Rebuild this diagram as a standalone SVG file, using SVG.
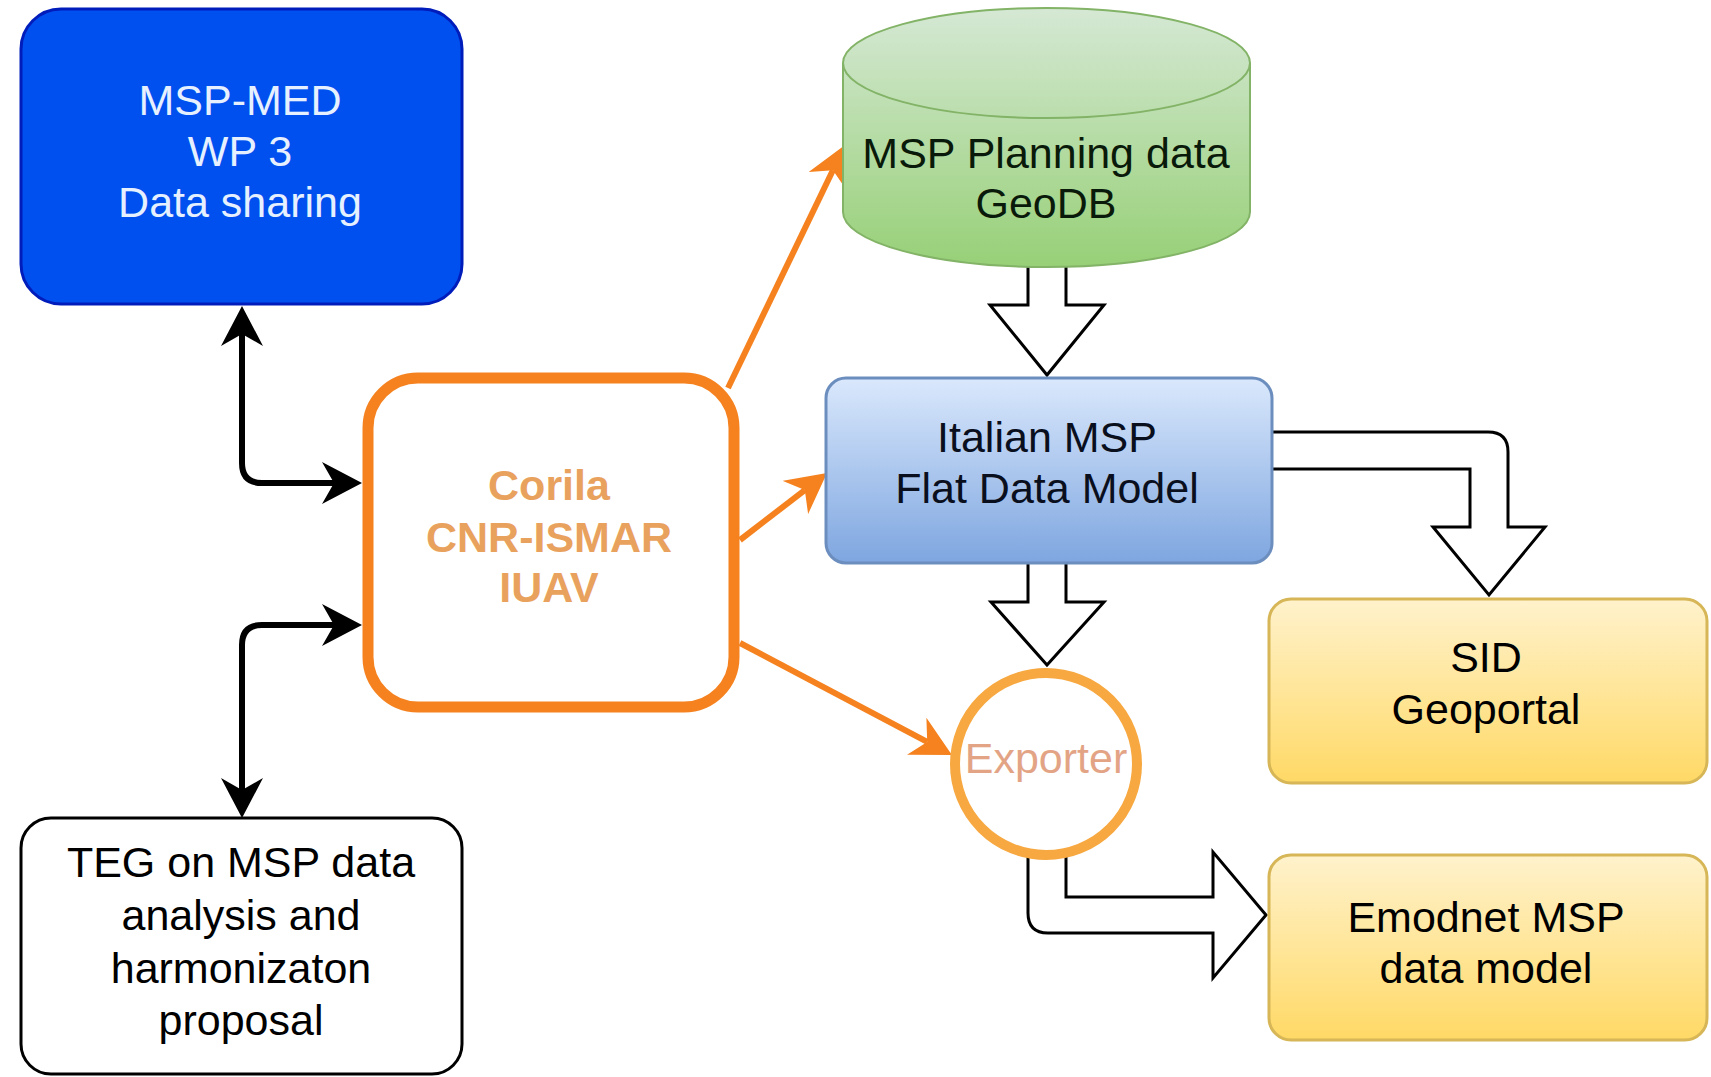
<svg xmlns="http://www.w3.org/2000/svg" width="1711" height="1077" viewBox="0 0 1711 1077">
<style>
text{font-family:"Liberation Sans",Arial,sans-serif;font-size:43px;text-anchor:middle}
.flex{fill:#fff;stroke:#000;stroke-width:3;stroke-linejoin:miter}
.blk{fill:none;stroke:#000;stroke-width:6}
.org{fill:none;stroke:#F5821F;stroke-width:6}
</style>
<defs>
<linearGradient id="gGreen" x1="0" y1="0" x2="0" y2="1"><stop offset="0" stop-color="#d5e8d4"/><stop offset="1" stop-color="#97d077"/></linearGradient>
<linearGradient id="gBlue" x1="0" y1="0" x2="0" y2="1"><stop offset="0" stop-color="#dae8fc"/><stop offset="1" stop-color="#7ea6e0"/></linearGradient>
<linearGradient id="gYellow" x1="0" y1="0" x2="0" y2="1"><stop offset="0" stop-color="#fff2cc"/><stop offset="1" stop-color="#ffd966"/></linearGradient>
<marker id="mBlk" viewBox="0 0 40 42" refX="12" refY="21" markerWidth="40" markerHeight="42" markerUnits="userSpaceOnUse" orient="auto-start-reverse"><path d="M0,0 L40,21 L0,42 L12,21 Z" fill="#000"/></marker>
<marker id="mOrg" viewBox="0 0 40 42" refX="12" refY="21" markerWidth="40" markerHeight="42" markerUnits="userSpaceOnUse" orient="auto"><path d="M0,0 L40,21 L0,42 L12,21 Z" fill="#F5821F"/></marker>
</defs>
<g id="connectors">
<path class="blk" d="M242,334 L242,463 Q242,483 262,483 L334,483" marker-start="url(#mBlk)" marker-end="url(#mBlk)"/>
<path class="blk" d="M242,790 L242,645 Q242,625 262,625 L334,625" marker-start="url(#mBlk)" marker-end="url(#mBlk)"/>
<path class="org" d="M728,388 L832.9,170.2" marker-end="url(#mOrg)"/>
<path class="org" d="M740,540 L804.8,490.1" marker-end="url(#mOrg)"/>
<path class="org" d="M740,643 L927.2,741.9" marker-end="url(#mOrg)"/>
<path class="flex" d="M1028,262 L1028,305 L990,305 L1047,375 L1104,305 L1066,305 L1066,262"/>
<path class="flex" d="M1028,560 L1028,602 L991,602 L1047,665 L1104,602 L1066,602 L1066,560"/>
<path class="flex" d="M1268,432 L1488,432 Q1508,432 1508,452 L1508,527 L1545,527 L1489,595 L1433,527 L1470,527 L1470,469 L1268,469"/>
<path class="flex" d="M1066,850 L1066,897 L1213,897 L1213,852 L1266,915 L1213,978 L1213,933 L1048,933 Q1028,933 1028,913 L1028,850"/>
</g>
<g id="msp-med">
<rect x="21" y="9" width="441" height="295" rx="40" fill="#0050ef" stroke="#001dbc" stroke-width="3"/>
<text x="240" y="115" fill="#e6f0ff">MSP-MED</text>
<text x="240" y="166" fill="#e6f0ff">WP 3</text>
<text x="240" y="217" fill="#e6f0ff">Data sharing</text>
</g>
<g id="corila">
<rect x="368" y="378" width="366" height="329" rx="50" fill="#fff" stroke="#F5821F" stroke-width="11"/>
<text x="549" y="500" fill="#E9A25E" font-weight="bold">Corila</text>
<text x="549" y="552" fill="#E9A25E" font-weight="bold">CNR-ISMAR</text>
<text x="549" y="602" fill="#E9A25E" font-weight="bold">IUAV</text>
</g>
<g id="geodb">
<path d="M843,63 A203.5,55 0 0 1 1250,63 L1250,212 A203.5,55 0 0 1 843,212 Z" fill="url(#gGreen)" stroke="#82b366" stroke-width="2"/>
<path d="M843,63 A203.5,55 0 0 0 1250,63" fill="none" stroke="#82b366" stroke-width="2"/>
<text x="1046" y="168" fill="#0a1a0a">MSP Planning data</text>
<text x="1046" y="218" fill="#0a1a0a">GeoDB</text>
</g>
<g id="italian">
<rect x="826" y="378" width="446" height="185" rx="20" fill="url(#gBlue)" stroke="#6c8ebf" stroke-width="3"/>
<text x="1047" y="452" fill="#0a0f1e">Italian MSP</text>
<text x="1047" y="503" fill="#0a0f1e">Flat Data Model</text>
</g>
<g id="exporter">
<circle cx="1046" cy="764" r="91" fill="#fff" stroke="#F7A840" stroke-width="10"/>
<text x="1046" y="773" fill="#E3A486">Exporter</text>
</g>
<g id="sid">
<rect x="1269" y="599" width="438" height="184" rx="22" fill="url(#gYellow)" stroke="#d6b656" stroke-width="3"/>
<text x="1486" y="672" fill="#000">SID</text>
<text x="1486" y="724" fill="#000">Geoportal</text>
</g>
<g id="emodnet">
<rect x="1269" y="855" width="438" height="185" rx="22" fill="url(#gYellow)" stroke="#d6b656" stroke-width="3"/>
<text x="1486" y="932" fill="#000">Emodnet MSP</text>
<text x="1486" y="983" fill="#000">data model</text>
</g>
<g id="teg">
<rect x="21" y="818" width="441" height="256" rx="30" fill="#fff" stroke="#000" stroke-width="3"/>
<text x="241" y="877" fill="#000">TEG on MSP data</text>
<text x="241" y="930" fill="#000">analysis and</text>
<text x="241" y="983" fill="#000">harmonizaton</text>
<text x="241" y="1035" fill="#000">proposal</text>
</g>
</svg>
